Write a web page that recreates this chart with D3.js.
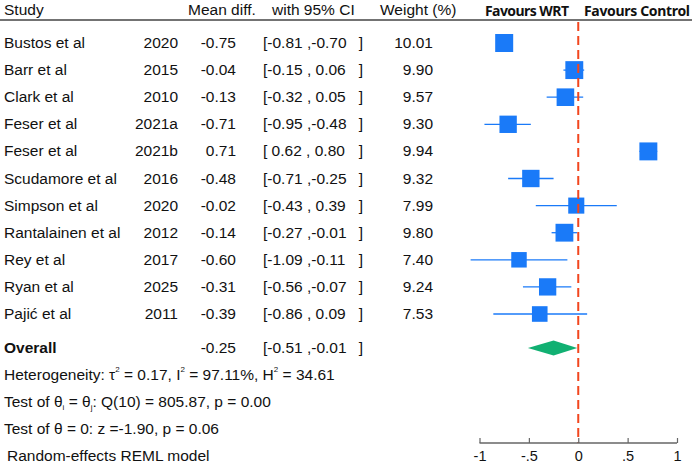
<!DOCTYPE html>
<html>
<head>
<meta charset="utf-8">
<script src="https://cdn.jsdelivr.net/npm/d3@7"></script>
<style>
  body { margin: 0; background: #fff; }
  text { font-family: "Liberation Sans", Arial, sans-serif; fill: #111; }
  .hdr-fav { font-family: "Noto Sans", "Open Sans", sans-serif; font-weight: bold; }
</style>
</head>
<body>
<div id="chart"></div>
<script>
// data
var studies = ["Bustos et al", "Barr et al", "Clark et al", "Feser et al", "Feser et al",
  "Scudamore et al", "Simpson et al", "Rantalainen et al", "Rey et al", "Ryan et al", "Pajić et al"];
var years = ["2020", "2015", "2010", "2021a", "2021b", "2016", "2020", "2012", "2017", "2025", "2011"];
var effects = [-0.75, -0.04, -0.13, -0.71, 0.71, -0.48, -0.02, -0.14, -0.60, -0.31, -0.39];
var lower = [-0.81, -0.15, -0.32, -0.95, 0.62, -0.71, -0.43, -0.27, -1.09, -0.56, -0.86];
var upper = [-0.70, 0.06, 0.05, -0.48, 0.80, -0.25, 0.39, -0.01, -0.11, -0.07, 0.09];
var weights = [10.01, 9.90, 9.57, 9.30, 9.94, 9.32, 7.99, 9.80, 7.40, 9.24, 7.53];
var overall = { est: -0.25, lo: -0.51, hi: -0.01 };
var xTicks = [-1, -0.5, 0, 0.5, 1];
var xTickLabels = ["-1", "-.5", "0", ".5", "1"];

var width = 692, height = 468;
var blue = "#1a7af8", green = "#11b072", red = "#f2461e";
var fs = "15.5px";

var svg = d3.select("#chart").append("svg")
  .attr("width", width).attr("height", height);

// scales
var x = d3.scaleLinear().domain([-1, 1]).range([479.5, 677]);
var rowY = d3.scaleLinear().domain([0, 10]).range([43, 314]);
var overallY = 348;
var sq = d3.scaleSqrt().domain([0, d3.max(weights)]).range([0, 18]);

function fmt(v) { return v.toFixed(2); }
function ciText(lo, hi) {
  var a = lo < 0 ? fmt(lo) : " " + fmt(lo);
  var b = hi < 0 ? "," + fmt(hi) : ", " + fmt(hi);
  return "[" + a + " " + b;
}

// header
var hdr = svg.append("g").style("font-size", fs);
hdr.append("text").attr("x", 4).attr("y", 15).text("Study");
hdr.append("text").attr("x", 188).attr("y", 15).text("Mean diff.");
hdr.append("text").attr("x", 272).attr("y", 15).text("with 95% CI");
hdr.append("text").attr("x", 380).attr("y", 15).text("Weight (%)");
hdr.append("text").attr("class", "hdr-fav").attr("x", 485).attr("y", 16)
  .style("font-size", "14px").attr("textLength", 84).attr("lengthAdjust", "spacing")
  .text("Favours WRT");
hdr.append("text").attr("class", "hdr-fav").attr("x", 584).attr("y", 16)
  .style("font-size", "14px").attr("textLength", 106).attr("lengthAdjust", "spacing")
  .text("Favours Control");
svg.append("line").attr("x1", 0).attr("x2", width).attr("y1", 20).attr("y2", 20)
  .attr("stroke", "#444").attr("stroke-width", 1.5);

// rows text
var rows = svg.append("g").style("font-size", fs);
var idx = d3.range(studies.length);
rows.selectAll(".study").data(idx).enter().append("text")
  .attr("x", 4).attr("y", i => rowY(i) + 5).text(i => studies[i]);
rows.selectAll(".year").data(idx).enter().append("text")
  .attr("x", 178).attr("y", i => rowY(i) + 5).attr("text-anchor", "end").text(i => years[i]);
rows.selectAll(".eff").data(idx).enter().append("text")
  .attr("x", 236).attr("y", i => rowY(i) + 5).attr("text-anchor", "end")
  .text(i => fmt(effects[i]));
rows.selectAll(".ci").data(idx).enter().append("text")
  .attr("x", 263).attr("y", i => rowY(i) + 5)
  .attr("xml:space", "preserve").style("white-space", "pre")
  .text(i => ciText(lower[i], upper[i]));
rows.selectAll(".ciend").data(idx).enter().append("text")
  .attr("x", 363).attr("y", i => rowY(i) + 5).attr("text-anchor", "end").text("]");
rows.selectAll(".wt").data(idx).enter().append("text")
  .attr("x", 433).attr("y", i => rowY(i) + 5).attr("text-anchor", "end").text(i => fmt(weights[i]));

// overall row
rows.append("text").attr("x", 4).attr("y", overallY + 5).style("font-weight", "bold").text("Overall");
rows.append("text").attr("x", 236).attr("y", overallY + 5).attr("text-anchor", "end").text(fmt(overall.est));
rows.append("text").attr("x", 263).attr("y", overallY + 5)
  .attr("xml:space", "preserve").style("white-space", "pre").text(ciText(overall.lo, overall.hi));
rows.append("text").attr("x", 363).attr("y", overallY + 5).attr("text-anchor", "end").text("]");

// footnotes
var foot = svg.append("g").style("font-size", fs);
var t1 = foot.append("text").attr("x", 4).attr("y", 380);
t1.append("tspan").text("Heterogeneity: τ");
t1.append("tspan").attr("dy", -8).style("font-size", "8px").text("2");
t1.append("tspan").attr("dy", 8).text(" = 0.17, I");
t1.append("tspan").attr("dy", -8).style("font-size", "8px").text("2");
t1.append("tspan").attr("dy", 8).text(" = 97.11%, H");
t1.append("tspan").attr("dy", -8).style("font-size", "8px").text("2");
t1.append("tspan").attr("dy", 8).text(" = 34.61");

var t2 = foot.append("text").attr("x", 4).attr("y", 407);
t2.append("tspan").text("Test of θ");
t2.append("tspan").attr("dy", 3).style("font-size", "8px").text("i");
t2.append("tspan").attr("dy", -3).text(" = θ");
t2.append("tspan").attr("dy", 3).style("font-size", "8px").text("j");
t2.append("tspan").attr("dy", -3).text(": Q(10) = 805.87, p = 0.00");

foot.append("text").attr("x", 4).attr("y", 434).text("Test of θ = 0: z =-1.90, p = 0.06");
foot.append("text").attr("x", 7).attr("y", 461).text("Random-effects REML model");

// plot: CI lines
var plot = svg.append("g");
plot.selectAll(".cil").data(idx).enter().append("line")
  .attr("x1", i => x(lower[i])).attr("x2", i => x(upper[i]))
  .attr("y1", i => rowY(i)).attr("y2", i => rowY(i))
  .attr("stroke", blue).attr("stroke-width", 1.3);
plot.selectAll(".sq").data(idx).enter().append("rect")
  .attr("x", i => x(effects[i]) - sq(weights[i]) / 2)
  .attr("y", i => rowY(i) - sq(weights[i]) / 2)
  .attr("width", i => sq(weights[i]))
  .attr("height", i => sq(weights[i]))
  .attr("fill", blue);

// overall diamond
var dh = 7.5;
plot.append("path")
  .attr("d", `M${x(overall.lo)},${overallY} L${x(overall.est)},${overallY - dh} L${x(overall.hi)},${overallY} L${x(overall.est)},${overallY + dh} Z`)
  .attr("fill", green);

// no-effect line
plot.append("line").attr("x1", x(0)).attr("x2", x(0)).attr("y1", 22).attr("y2", 443)
  .attr("stroke", red).attr("stroke-width", 2).attr("stroke-dasharray", "9,5");

// x axis
var axis = svg.append("g").attr("transform", "translate(0,443)")
  .call(d3.axisBottom(x).tickValues(xTicks).tickSize(-5)
    .tickFormat((d, i) => xTickLabels[i]));
axis.select(".domain").attr("stroke", "#666").attr("stroke-width", 1.5).attr("d", `M${x(-1)},0H${x(1)}`);
axis.selectAll(".tick line").attr("stroke", "#666").attr("stroke-width", 1.2);
axis.selectAll(".tick text").attr("y", 8).attr("dy", "0.71em")
  .style("font-family", "Liberation Sans, Arial, sans-serif").style("font-size", "14.5px").attr("fill", "#111");
</script>
</body>
</html>
